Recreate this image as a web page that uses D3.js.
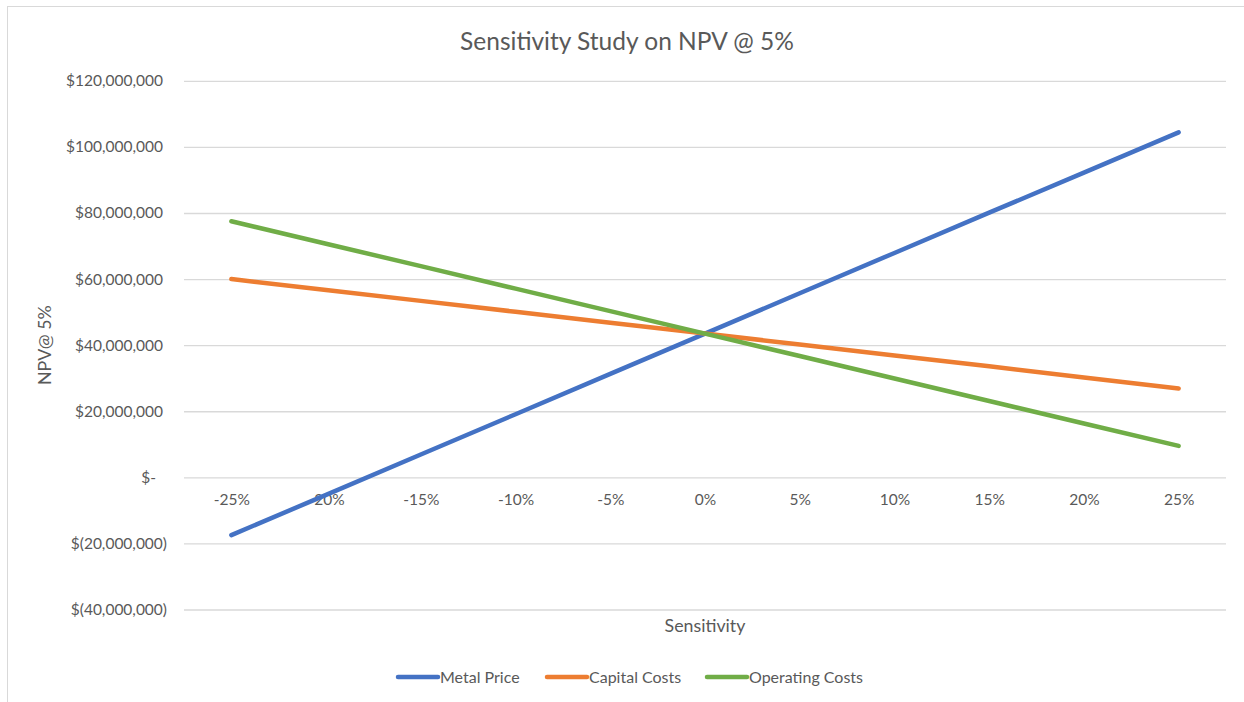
<!DOCTYPE html>
<html>
<head>
<meta charset="utf-8">
<script src="https://cdn.jsdelivr.net/npm/d3@7"></script>
<style>
  body { margin: 0; background: #fff; }
  svg text { font-family: Lato, "Open Sans", sans-serif; fill: #595959; }
</style>
</head>
<body>
<svg id="chart" width="1244" height="702"></svg>
<script>
// Sensitivity steps applied to each input
const categories = ["-25%", "-20%", "-15%", "-10%", "-5%", "0%", "5%", "10%", "15%", "20%", "25%"];

// NPV @ 5% for each step (US$)
const metalPrice     = [-17.5e6, -5.3e6, 6.9e6, 19.1e6, 31.3e6, 43.5e6, 55.7e6, 67.9e6, 80.1e6, 92.2e6, 104.4e6];
const capitalCosts   = [60.0e6, 56.7e6, 53.4e6, 50.1e6, 46.8e6, 43.5e6, 40.2e6, 36.9e6, 33.6e6, 30.2e6, 26.9e6];
const operatingCosts = [77.5e6, 70.7e6, 63.9e6, 57.1e6, 50.3e6, 43.5e6, 36.7e6, 29.9e6, 23.1e6, 16.3e6, 9.5e6];

const seriesNames  = ["Metal Price", "Capital Costs", "Operating Costs"];
const seriesColors = ["#4472C4", "#ED7D31", "#70AD47"];

const yTicks = [-40e6, -20e6, 0, 20e6, 40e6, 60e6, 80e6, 100e6, 120e6];

const titleText = "Sensitivity Study on NPV @ 5%";
const xTitle = "Sensitivity";
const yTitle = "NPV@ 5%";

const series = [metalPrice, capitalCosts, operatingCosts].map((values, i) => ({
  name: seriesNames[i],
  color: seriesColors[i],
  values: values.map((v, j) => ({ cat: categories[j], v }))
}));

const svg = d3.select("#chart");

// chart area border
svg.append("rect")
  .attr("x", 7.5).attr("y", 6.5)
  .attr("width", 1300).attr("height", 800)
  .attr("fill", "none").attr("stroke", "#d9d9d9").attr("stroke-width", 1);

const plot = { left: 184, right: 1226, top: 80.8, bottom: 609.5 };

const x = d3.scalePoint().domain(categories).range([plot.left, plot.right]).padding(0.5);
const y = d3.scaleLinear().domain([-40e6, 120e6]).range([plot.bottom, plot.top]);

// Excel accounting-style money labels
const num = d3.format(",.0f");
const money = v => v === 0 ? "$-" : v < 0 ? "$(" + num(-v) + ")" : "$" + num(v);

// value axis with gridlines
const yAxis = svg.append("g")
  .attr("transform", `translate(${plot.left},0)`)
  .call(d3.axisLeft(y).tickValues(yTicks).tickFormat(money)
    .tickSize(-(plot.right - plot.left)).tickPadding(21));
yAxis.select(".domain").remove();
yAxis.selectAll(".tick line").attr("stroke", "#d9d9d9").attr("stroke-width", 1.3);
yAxis.selectAll(".tick text")
  .attr("font-size", 15.5)
  .attr("x", d => d < 0 ? -17 : d === 0 ? -28 : -21);

// category axis crossing at zero
const xAxis = svg.append("g")
  .attr("transform", `translate(0,${y(0)})`)
  .call(d3.axisBottom(x).tickSize(0).tickPadding(17));
xAxis.select(".domain").remove();
xAxis.selectAll(".tick text").attr("font-size", 15.5);

// series lines
const line = d3.line().x(d => x(d.cat)).y(d => y(d.v));
svg.append("g").selectAll("path")
  .data(series)
  .join("path")
  .attr("d", d => line(d.values))
  .attr("fill", "none")
  .attr("stroke", d => d.color)
  .attr("stroke-width", 4.5)
  .attr("stroke-linecap", "round")
  .attr("stroke-linejoin", "round");

// title
svg.append("text")
  .attr("x", 627).attr("y", 50)
  .attr("text-anchor", "middle")
  .attr("font-size", 24.5)
  .text(titleText);

// axis titles
svg.append("text")
  .attr("x", 705).attr("y", 632)
  .attr("text-anchor", "middle")
  .attr("font-size", 17.8)
  .text(xTitle);

svg.append("text")
  .attr("transform", `translate(51,${(plot.top + plot.bottom) / 2}) rotate(-90)`)
  .attr("text-anchor", "middle")
  .attr("font-size", 17.8)
  .text(yTitle);

// legend
const legendX = [398, 547, 707];
const legend = svg.append("g").selectAll("g")
  .data(series)
  .join("g")
  .attr("transform", (d, i) => `translate(${legendX[i]},677)`);
legend.append("line")
  .attr("x1", 0).attr("x2", 40)
  .attr("stroke", d => d.color)
  .attr("stroke-width", 4.5)
  .attr("stroke-linecap", "round");
legend.append("text")
  .attr("x", 42).attr("dy", "0.35em")
  .attr("font-size", 16)
  .text(d => d.name);
</script>
</body>
</html>
